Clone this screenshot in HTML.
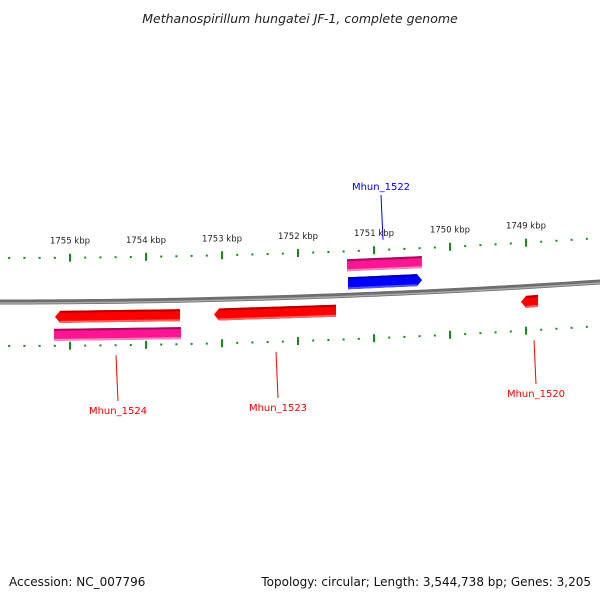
<!DOCTYPE html>
<html><head><meta charset="utf-8"><style>
body{margin:0;background:#fff;width:600px;height:600px;overflow:hidden;font-family:"DejaVu Sans","Liberation Sans",sans-serif}
</style></head><body>
<svg id="c" width="600" height="600" xmlns="http://www.w3.org/2000/svg">
<text x="300" y="23" text-anchor="middle" font-size="12.5" font-style="italic" fill="#222">Methanospirillum hungatei JF-1, complete genome</text>
<text x="9" y="586" font-size="12" fill="#111">Accession: NC_007796</text>
<text x="591" y="586" text-anchor="end" font-size="12" fill="#111">Topology: circular; Length: 3,544,738 bp; Genes: 3,205</text>
</svg>
<script>
const majorTicks=[1755,1754,1753,1752,1751,1750,1749];
const geneNames=["Mhun_1524","Mhun_1523","Mhun_1522","Mhun_1520"];
const geneStart=[1755.197,1753.105,1751.342,1749.066];
const geneEnd=[1753.553,1751.500,1750.368,1748.842];
const geneStrand=[-1,-1,1,-1];
const cdsStart=[1755.21,null,1751.355,null];
const cdsEnd=[1753.54,null,1750.37,null];
const labelX=[118,278,381,536];
const labelY=[414,411,190,397];

const svg=document.getElementById('c');
const NS='http://www.w3.org/2000/svg';
const X=kb=>70+(1755-kb)*76;
const Y=x=>302-5.56e-5*x*x;
function mk(t,a,parent){const e=document.createElementNS(NS,t);for(const k in a)e.setAttribute(k,a[k]);(parent||svg).appendChild(e);return e;}

let d='';for(let x=0;x<=600;x+=10){d+=(x?'L':'M')+x+' '+Y(x).toFixed(2);}
const bb=mk('path',{d:d,stroke:'#6e6e6e','stroke-width':5,fill:'none'});


const bb2=mk('path',{d:d,stroke:'#a8a8a8','stroke-width':1.5,fill:'none',transform:'translate(0,1)'});



const tg=mk('g',{});


for(let i=0;i<=50;i++){
  const kb=1755.8-i*0.2; const x=X(kb); if(x<0||x>600)continue;
  const major=Math.abs(kb-Math.round(kb))<0.01;
  [-44,44].forEach(off=>{
    const y=Y(x)+off;
    const h=major?8:2;
    const r=mk('rect',{x:x-1,y:y-h/2,width:2,height:h,fill:'#178a17'},tg);
    
    
  });
}
majorTicks.forEach(kb=>{
  const x=X(kb);
  const t=mk('text',{x:x,y:Y(x)-44-14,'text-anchor':'middle','font-size':8.5,fill:'#222'});
  t.textContent=kb+' kbp';
  
  
});

function bar(x1,x2,off,h,col,dark,light,arrow){
  const g=mk('g',{});
  const y1=Y(x1)+off,y2=Y(x2)+off,a=5;
  let pts;
  if(arrow<0) pts=[[x1+a,y1-h/2],[x2,y2-h/2],[x2,y2+h/2],[x1+a,y1+h/2],[x1,y1]];
  else if(arrow>0) pts=[[x1,y1-h/2],[x2-a,y2-h/2],[x2,y2],[x2-a,y2+h/2],[x1,y1+h/2]];
  else pts=[[x1,y1-h/2],[x2,y2-h/2],[x2,y2+h/2],[x1,y1+h/2]];
  mk('polygon',{points:pts.map(p=>p.join(',')).join(' '),fill:col},g);
  mk('line',{x1:x1+(arrow<0?a:0),y1:y1-h/2+1,x2:x2-(arrow>0?a:0),y2:y2-h/2+1,stroke:dark,'stroke-width':2},g);
  mk('line',{x1:x1+(arrow<0?a:0),y1:y1+h/2-1,x2:x2-(arrow>0?a:0),y2:y2+h/2-1,stroke:light,'stroke-width':2},g);
  return g;
}
geneNames.forEach((n,i)=>{
  const x1=X(geneStart[i]),x2=X(geneEnd[i]);
  const fwd=geneStrand[i]>0;
  const g=bar(x1,x2,fwd?-12:15,12,fwd?'#0000ff':'#ff0000',fwd?'#0000b0':'#b00000',fwd?'#5050ff':'#ff6060',geneStrand[i]);
  
  
  if(cdsStart[i]!==null){
    const c=bar(X(cdsStart[i]),X(cdsEnd[i]),fwd?-30:33,12,'#ff1493','#a0105a','#ff80c0',0);
    
    
  }
  const gx=(x1+x2)/2;
  const col=fwd?'#0000ff':'#ff0000';
  const ln=mk('line',{x1:labelX[i]+(fwd?2:-2),y1:fwd?Y(gx)-54:Y(gx)+54,x2:labelX[i],y2:fwd?labelY[i]+5:labelY[i]-13,stroke:col,'stroke-width':1});
  
  
  const t=mk('text',{x:labelX[i],y:labelY[i],'text-anchor':'middle','font-size':10,fill:col});
  t.textContent=n;
  
  
});
</script>
</body></html>
